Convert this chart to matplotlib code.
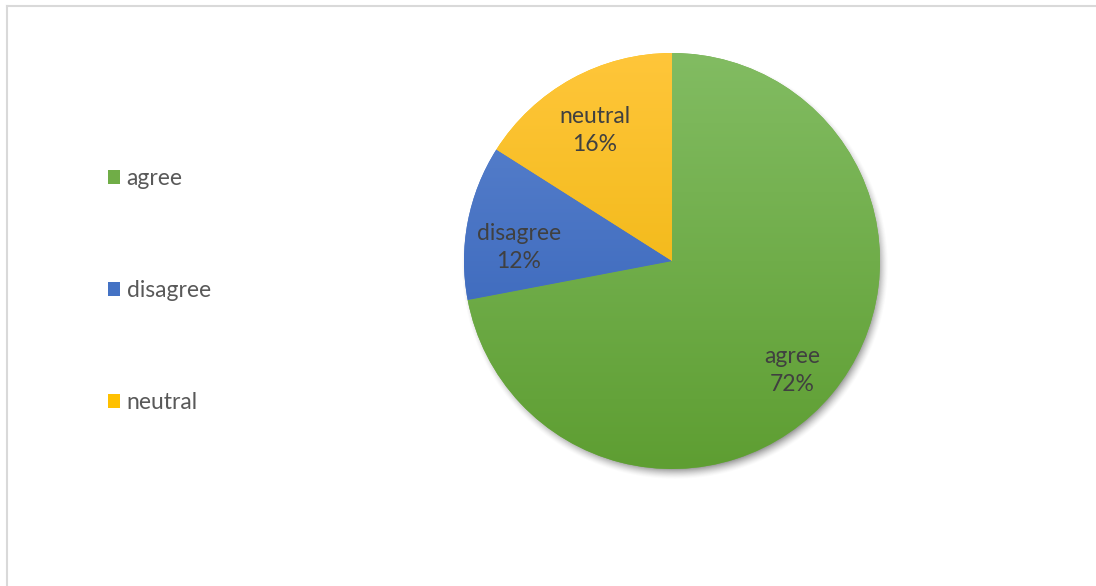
import matplotlib.pyplot as plt
import numpy as np
from matplotlib.patches import Patch
from matplotlib.colors import LinearSegmentedColormap

# survey answers
labels = ["agree", "disagree", "neutral"]
shares = [72, 12, 16]
# gradient colours per slice (top, bottom)
top_colors = ["#82BC62", "#5D85CF", "#FFC63A"]
bottom_colors = ["#5E9E32", "#2E5DB5", "#E8B000"]
base_colors = ["#70AD47", "#4472C4", "#FFC000"]

W, H = 1096, 586
cx, cy, R = 672, H - 261, 208

plt.rcParams["font.family"] = ["Lato", "DejaVu Sans"]

fig = plt.figure(figsize=(W / 100, H / 100), dpi=100)
ax = fig.add_axes([0, 0, 1, 1])

# soft drop shadow under the pie
xs = np.arange(cx - R - 30, cx + R + 30)
ys = np.arange(cy - R - 30, cy + R + 30)
gx, gy = np.meshgrid(xs, ys)
d = np.hypot(gx - (cx + 3), gy - (cy - 5))
blur = 6.0
alpha = np.clip((R + blur - d) / (2 * blur), 0, 1) ** 1.5 * 0.6
shadow = np.zeros(gx.shape + (4,))
shadow[..., :3] = 0.25
shadow[..., 3] = alpha
ax.imshow(shadow, extent=(xs[0], xs[-1], ys[0], ys[-1]), origin="lower",
          zorder=1, interpolation="bilinear")


def fmt(pct):
    i = int(round(pct))
    name = labels[shares.index(i)] if i in shares else ""
    return f"{name}\n{i}%"


wedges, _, autotexts = ax.pie(shares, colors=base_colors, startangle=90,
                              counterclock=False, center=(cx, cy), radius=R,
                              autopct=fmt, pctdistance=0.75, frame=True,
                              wedgeprops=dict(linewidth=0, zorder=2),
                              textprops=dict(fontsize=16.5, color="#404040",
                                             linespacing=1.42))
ax.set_xlim(0, W)
ax.set_ylim(0, H)
ax.set_aspect("equal")
ax.axis("off")

# vertical gradient fill, clipped to each slice
grad = np.linspace(0, 1, 256).reshape(-1, 1)
for w, c0, c1 in zip(wedges, top_colors, bottom_colors):
    cmap = LinearSegmentedColormap.from_list("g", [c1, c0])
    im = ax.imshow(grad, cmap=cmap, aspect="auto", origin="lower",
                   extent=(cx - R, cx + R, cy - R, cy + R), zorder=2.5)
    im.set_clip_path(w)

# nudge the slice labels a little, as the chart tool places them
nudges = [(0, -10), (0, -16), (-2, -6)]
for t, (dx, dy) in zip(autotexts, nudges):
    x, y = t.get_position()
    t.set_position((x + dx, y + dy))
    t.set_zorder(4)
    t.set_ha("center")

# chart border: only top and left edges fall inside the image
ax.plot([7, W + 5], [H - 6, H - 6], color="#D9D9D9", lw=1.5, zorder=0)
ax.plot([7, 7], [H - 6, -5], color="#D9D9D9", lw=1.5, zorder=0)

handles = [Patch(facecolor=c, edgecolor="none") for c in base_colors]
ax.legend(handles, labels, loc="upper left", bbox_to_anchor=(0.0985, 0.713),
          frameon=False, fontsize=16.5, labelcolor="#595959",
          labelspacing=3.97, handlelength=0.52, handleheight=0.52,
          handletextpad=0.3, borderaxespad=0, borderpad=0)

fig.savefig("out.png", dpi=100)
